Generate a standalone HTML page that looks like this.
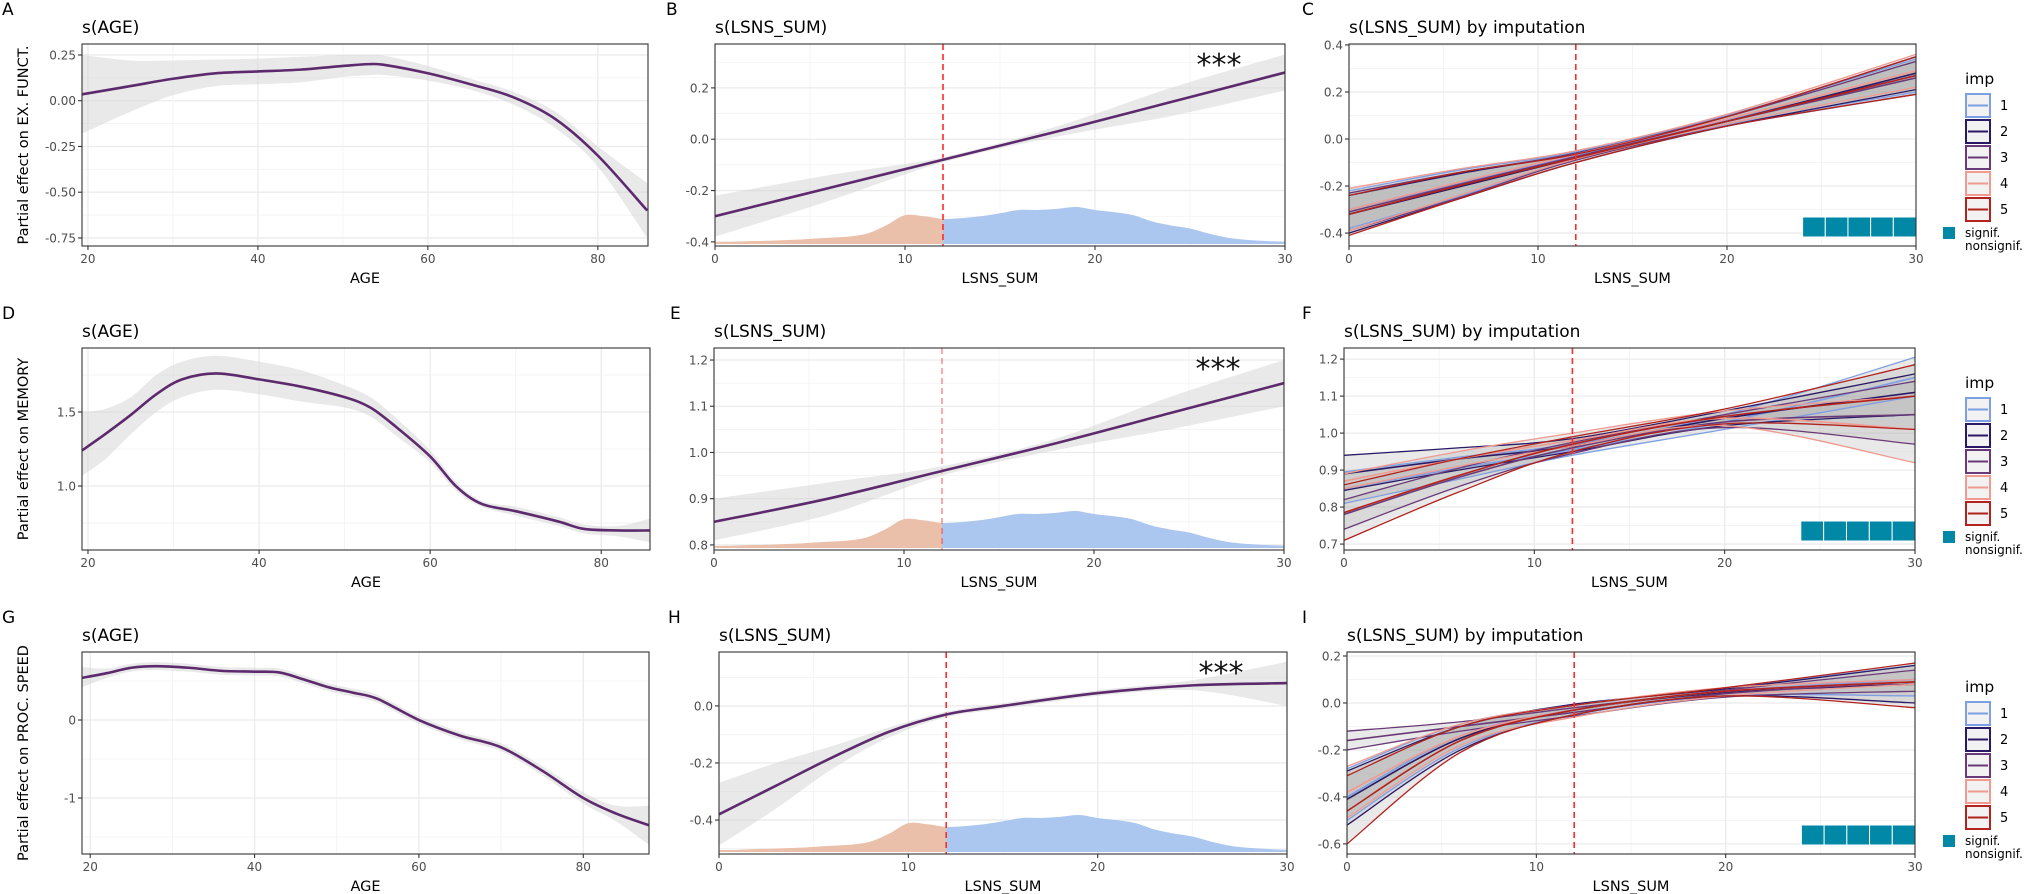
<!DOCTYPE html>
<html><head><meta charset="utf-8"><style>
html,body{margin:0;padding:0;background:#fff}
svg{display:block;font-family:"DejaVu Sans","Liberation Sans",sans-serif}
</style></head><body>
<svg id="fig" width="2031" height="894" viewBox="0 0 2031 894" xmlns="http://www.w3.org/2000/svg"></svg>
<script>
// ---------- DATA ----------
const ageTicks=[20,40,60,80];
const lsnsTicks=[0,10,20,30];
const cutoff=12;
const lsnsGrid=[0,1,2,3,4,5,6,7,8,9,10,11,12,13,14,15,16,17,18,19,20,21,22,23,24,25,26,27,28,29,30];
const lsnsDensity=[0.05,0.06,0.08,0.09,0.11,0.14,0.17,0.2,0.28,0.5,0.78,0.75,0.67,0.7,0.75,0.83,0.92,0.92,0.95,1.0,0.92,0.86,0.78,0.61,0.5,0.42,0.28,0.17,0.11,0.08,0.06];

const ageA=[19.3,25,30,35,40,45,50,53,55,60,65,70,75,80,85.8];
const fitA=[0.035,0.08,0.12,0.15,0.16,0.17,0.19,0.2,0.195,0.15,0.09,0.02,-0.1,-0.3,-0.6];
const upA=[0.25,0.22,0.22,0.225,0.23,0.24,0.25,0.25,0.245,0.19,0.12,0.05,-0.06,-0.25,-0.45];
const loA=[-0.18,-0.06,0.03,0.08,0.09,0.1,0.13,0.14,0.14,0.11,0.06,-0.02,-0.15,-0.36,-0.75];
const yTicksA=[0.25,0,-0.25,-0.5,-0.75];
const yLabelsA=["0.25","0.00","-0.25","-0.50","-0.75"];

const ageD=[19.3,22,25,28,31,35,40,45,50,53,56,60,63,66,70,75,78,82,85.7];
const fitD=[1.24,1.35,1.48,1.62,1.72,1.76,1.72,1.67,1.6,1.53,1.4,1.2,1.0,0.88,0.83,0.76,0.71,0.7,0.7];
const upD=[1.5,1.52,1.6,1.75,1.84,1.88,1.84,1.78,1.68,1.6,1.46,1.24,1.03,0.9,0.86,0.79,0.74,0.73,0.78];
const loD=[1.07,1.18,1.35,1.5,1.6,1.65,1.62,1.57,1.53,1.47,1.34,1.16,0.97,0.86,0.8,0.73,0.68,0.66,0.62];
const yTicksD=[1.0,1.5];
const yLabelsD=["1.0","1.5"];

const ageG=[19,22,25,28,32,36,40,43,46,49,52,55,60,65,70,75,80,84,88];
const fitG=[0.54,0.6,0.67,0.69,0.67,0.63,0.62,0.61,0.52,0.42,0.35,0.27,0.0,-0.2,-0.35,-0.65,-1.0,-1.2,-1.35];
const upG=[0.68,0.66,0.72,0.74,0.72,0.68,0.67,0.66,0.57,0.47,0.4,0.32,0.05,-0.15,-0.3,-0.59,-0.93,-1.1,-1.1];
const loG=[0.42,0.54,0.62,0.64,0.62,0.58,0.57,0.56,0.47,0.37,0.3,0.22,-0.05,-0.25,-0.4,-0.71,-1.07,-1.3,-1.6];
const yTicksG=[0,-1];
const yLabelsG=["0","-1"];

const lsB=[0,6,12,18,24,30];
const fitB=[-0.3,-0.19,-0.08,0.03,0.145,0.26];
const upB=[-0.22,-0.14,-0.07,0.05,0.2,0.33];
const loB=[-0.38,-0.24,-0.09,0.01,0.09,0.19];
const yTicksB=[0.2,0,-0.2,-0.4];
const yLabelsB=["0.2","0.0","-0.2","-0.4"];

const lsE=[0,6,12,18,24,30];
const fitE=[0.85,0.9,0.96,1.02,1.085,1.15];
const upE=[0.9,0.935,0.97,1.03,1.12,1.2];
const loE=[0.81,0.865,0.95,1.005,1.05,1.1];
const yTicksE=[1.2,1.1,1.0,0.9,0.8];
const yLabelsE=["1.2","1.1","1.0","0.9","0.8"];

const lsH=[0,3,6,9,12,15,20,25,30];
const fitH=[-0.38,-0.28,-0.18,-0.09,-0.03,0.0,0.045,0.072,0.08];
const upH=[-0.27,-0.2,-0.14,-0.075,-0.02,0.01,0.055,0.09,0.155];
const loH=[-0.49,-0.36,-0.22,-0.11,-0.04,-0.01,0.035,0.055,0.0];
const yTicksH=[0,-0.2,-0.4];
const yLabelsH=["0.0","-0.2","-0.4"];

const impKnots=[0,6,12,20,30];
const impNames=["1","2","3","4","5"];
const impColors=["#7f9fe3","#2a1a66","#6a3a78","#f09a90","#b3221c"];
const cMean=[[-0.30,-0.185,-0.07,0.08,0.27],[-0.32,-0.20,-0.08,0.075,0.28],[-0.31,-0.19,-0.075,0.075,0.26],[-0.30,-0.18,-0.065,0.085,0.29],[-0.32,-0.195,-0.08,0.075,0.27]];
const cUp=[[-0.22,-0.13,-0.055,0.10,0.34],[-0.24,-0.145,-0.06,0.095,0.35],[-0.23,-0.14,-0.06,0.095,0.33],[-0.21,-0.125,-0.05,0.105,0.36],[-0.24,-0.14,-0.065,0.095,0.35]];
const cLo=[[-0.38,-0.24,-0.09,0.06,0.20],[-0.40,-0.25,-0.10,0.055,0.21],[-0.39,-0.245,-0.09,0.055,0.19],[-0.39,-0.235,-0.085,0.065,0.22],[-0.41,-0.25,-0.10,0.055,0.19]];
const yTicksC=[0.4,0.2,0,-0.2,-0.4];
const yLabelsC=["0.4","0.2","0.0","-0.2","-0.4"];

const fMean=[[0.85,0.905,0.955,1.03,1.15],[0.89,0.93,0.965,1.04,1.11],[0.78,0.88,0.96,1.03,1.05],[0.87,0.93,0.98,1.04,1.01],[0.785,0.885,0.97,1.045,1.10]];
const fUp=[[0.895,0.935,0.97,1.05,1.205],[0.94,0.96,0.985,1.06,1.16],[0.82,0.905,0.975,1.05,1.14],[0.89,0.95,1.0,1.06,1.10],[0.86,0.93,0.99,1.065,1.185]];
const fLo=[[0.81,0.875,0.94,1.01,1.10],[0.845,0.9,0.95,1.02,1.05],[0.74,0.855,0.945,1.015,0.97],[0.85,0.91,0.965,1.02,0.92],[0.71,0.84,0.95,1.025,1.01]];
const yTicksF=[1.2,1.1,1.0,0.9,0.8,0.7];
const yLabelsF=["1.2","1.1","1.0","0.9","0.8","0.7"];

const iMean=[[-0.40,-0.14,-0.03,0.05,0.10],[-0.41,-0.15,-0.03,0.045,0.08],[-0.16,-0.10,-0.04,0.04,0.09],[-0.38,-0.14,-0.03,0.05,0.09],[-0.46,-0.16,-0.03,0.05,0.09]];
const iUp=[[-0.28,-0.09,-0.01,0.065,0.16],[-0.29,-0.10,-0.005,0.06,0.16],[-0.12,-0.08,-0.02,0.055,0.14],[-0.27,-0.09,-0.01,0.065,0.10],[-0.31,-0.10,-0.01,0.065,0.17]];
const iLo=[[-0.50,-0.19,-0.05,0.03,0.03],[-0.52,-0.20,-0.05,0.03,0.0],[-0.20,-0.12,-0.055,0.025,0.05],[-0.49,-0.18,-0.06,0.03,0.08],[-0.60,-0.21,-0.05,0.03,-0.02]];
const yTicksI=[0.2,0,-0.2,-0.4,-0.6];
const yLabelsI=["0.2","0.0","-0.2","-0.4","-0.6"];

const signifStart=24, signifEnd=30, signifBoxes=5;

// ---------- DRAW ----------
const NS="http://www.w3.org/2000/svg";
const svg=document.getElementById('fig');
function el(tag,attrs,parent,text){const e=document.createElementNS(NS,tag);for(const k in attrs)e.setAttribute(k,attrs[k]);if(text!==undefined)e.textContent=text;(parent||svg).appendChild(e);return e;}
function spline(pts){
  if(pts.length<2)return "";
  let d="M"+pts[0][0].toFixed(2)+","+pts[0][1].toFixed(2);
  for(let i=0;i<pts.length-1;i++){
    const p0=pts[Math.max(0,i-1)],p1=pts[i],p2=pts[i+1],p3=pts[Math.min(pts.length-1,i+2)];
    const c1x=p1[0]+(p2[0]-p0[0])/6,c1y=p1[1]+(p2[1]-p0[1])/6;
    const c2x=p2[0]-(p3[0]-p1[0])/6,c2y=p2[1]-(p3[1]-p1[1])/6;
    d+=" C"+c1x.toFixed(2)+","+c1y.toFixed(2)+" "+c2x.toFixed(2)+","+c2y.toFixed(2)+" "+p2[0].toFixed(2)+","+p2[1].toFixed(2);
  }
  return d;
}
function splineBody(pts){return spline(pts).replace(/^M[^ ]+/,"");}

function panel(c){
  const g=el('g',{});
  
  
  const sx=v=>c.x0+(v-c.xd[0])/(c.xd[1]-c.xd[0])*(c.x1-c.x0);
  const sy=v=>c.y0+(c.yd[1]-v)/(c.yd[1]-c.yd[0])*(c.y1-c.y0);
  c.sx=sx;c.sy=sy;
  const clipId='clip-'+c.name;
  const cp=el('clipPath',{id:clipId},g);
  el('rect',{x:c.x0,y:c.y0,width:c.x1-c.x0,height:c.y1-c.y0},cp);
  el('rect',{x:c.x0,y:c.y0,width:c.x1-c.x0,height:c.y1-c.y0,fill:'#fff'},g);
  const grid=el('g',{'clip-path':'url(#'+clipId+')'},g);
  
  
  const xt=c.xt, yt=c.yt;
  const xs=xt[1]-xt[0], ys=yt[1]-yt[0];
  for(let v=xt[0]-xs/2;v<=c.xd[1];v+=xs){if(v>=c.xd[0])el('line',{x1:sx(v),x2:sx(v),y1:c.y0,y2:c.y1,stroke:'#f2f2f2','stroke-width':0.8},grid);}
  const ymin=Math.min(...yt),ystep=Math.abs(ys);
  for(let v=ymin-ystep/2;v<=c.yd[1];v+=ystep){if(v>=c.yd[0])el('line',{x1:c.x0,x2:c.x1,y1:sy(v),y2:sy(v),stroke:'#f2f2f2','stroke-width':0.8},grid);}
  xt.forEach(v=>el('line',{x1:sx(v),x2:sx(v),y1:c.y0,y2:c.y1,stroke:'#ebebeb','stroke-width':1.3},grid));
  yt.forEach(v=>el('line',{x1:c.x0,x2:c.x1,y1:sy(v),y2:sy(v),stroke:'#ebebeb','stroke-width':1.3},grid));
  const plot=el('g',{'clip-path':'url(#'+clipId+')'},g);
  if(c.draw)c.draw(c,plot);
  const b=el('rect',{x:c.x0,y:c.y0,width:c.x1-c.x0,height:c.y1-c.y0,fill:'none',stroke:'#333','stroke-width':1.1},g);
  
  
  const xa=el('g',{},g);
  
  
  xt.forEach(v=>{el('line',{x1:sx(v),x2:sx(v),y1:c.y1,y2:c.y1+4,stroke:'#333','stroke-width':1.1},xa);
    const t=el('text',{x:sx(v),y:c.y1+17,'text-anchor':'middle','font-size':12,fill:'#4d4d4d'},xa,String(v));
    
    });
  const ya=el('g',{},g);
  
  
  yt.forEach((v,i)=>{el('line',{x1:c.x0-4,x2:c.x0,y1:sy(v),y2:sy(v),stroke:'#333','stroke-width':1.1},ya);
    const t=el('text',{x:c.x0-6,y:sy(v)+4.5,'text-anchor':'end','font-size':12,fill:'#4d4d4d'},ya,c.yl[i]);
    
    });
  const xtl=el('text',{x:(c.x0+c.x1)/2,y:c.y1+37,'text-anchor':'middle','font-size':14.5,fill:'#000'},g,c.xlab);
  
  
  if(c.ylab){const yy=(c.y0+c.y1)/2;
    const t=el('text',{x:28,y:yy,'text-anchor':'middle','font-size':14.5,fill:'#000',transform:'rotate(-90 28 '+yy+')'},g,c.ylab);
    
    }
  const tt=el('text',{x:c.x0,y:c.y0-11,'font-size':17,fill:'#000'},g,c.title);
  
  
  const lt=el('text',{x:c.lx,y:c.y0-29,'font-size':17,fill:'#000'},g,c.letter);
  
  
  return c;
}
function ribbon(c,plot,xs,up,lo,fill,op){
  const U=xs.map((x,i)=>[c.sx(x),c.sy(up[i])]);
  const L=xs.map((x,i)=>[c.sx(x),c.sy(lo[i])]).reverse();
  const d=spline(U)+" L"+L[0][0]+","+L[0][1]+splineBody(L)+" Z";
  return el('path',{d:d,fill:fill,'fill-opacity':op,stroke:'none'},plot);
}
function smoothDraw(xs,fit,up,lo){
  return function(c,plot){
    const r=ribbon(c,plot,xs,up,lo,'#d4d4d4',0.5);
    
    
    const p=el('path',{d:spline(xs.map((x,i)=>[c.sx(x),c.sy(fit[i])])),fill:'none',stroke:'#5c2a6d','stroke-width':2.6},plot);
    
    
  };
}
function densityDraw(c,plot,redOp){
  const base=c.y1-2, H=37;
  function area(filter,color,nm){
    let pts=[];
    lsnsGrid.forEach((x,i)=>{if(filter(x))pts.push([c.sx(x),base-lsnsDensity[i]*H]);});
    const d=spline(pts)+" L"+pts[pts.length-1][0]+","+base+" L"+pts[0][0]+","+base+" Z";
    const p=el('path',{d:d,fill:color,stroke:'none'},plot);
    
    
  }
  area(x=>x<=cutoff,'#ebc0ab','density-below-cutoff');
  area(x=>x>=cutoff,'#abc6ef','density-above-cutoff');
  const l=el('line',{x1:c.sx(cutoff),x2:c.sx(cutoff),y1:c.y0,y2:c.y1,stroke:'#ff2a2a','stroke-width':1.6,'stroke-dasharray':'6,4','stroke-opacity':redOp},plot);
  
  
}
function stars(c){
  const t=el('text',{x:c.x1-66,y:c.y0+31,'text-anchor':'middle','font-size':30,fill:'#111'},svg,'***');
  
  
}
function impDraw(mean,up,lo){
  return function(c,plot){
    for(let k=0;k<5;k++){const r=ribbon(c,plot,impKnots,up[k],lo[k],'#b0b0b0',0.28);
      
      }
    for(let k=0;k<5;k++){
      [up[k],mean[k],lo[k]].forEach((arr,j)=>{
        const p=el('path',{d:spline(impKnots.map((x,i)=>[c.sx(x),c.sy(arr[i])])),fill:'none',stroke:impColors[k],'stroke-width':j===1?1.6:1.3},plot);
        
        
      });
    }
    const l=el('line',{x1:c.sx(cutoff),x2:c.sx(cutoff),y1:c.y0,y2:c.y1,stroke:'#ff2a2a','stroke-width':1.6,'stroke-dasharray':'6,4'},plot);
    
    
    const x0=c.sx(signifStart),x1=c.sx(signifEnd),w=(x1-x0)/signifBoxes;
    for(let i=0;i<signifBoxes;i++){
      const r=el('rect',{x:x0+i*w,y:c.y0+173,width:w,height:20,fill:'#0088a6',stroke:'#fff','stroke-width':1},plot);
      
      
    }
  };
}
function legend(off){
  const g=el('g',{});
  
  
  el('text',{x:1965,y:84+off,'font-size':15.5,fill:'#000'},g,'imp');
  for(let k=0;k<5;k++){
    const y=93+off+k*26;
    const e=el('g',{},g);
    
    
    el('rect',{x:1966,y:y+1,width:24,height:23,fill:'#f2f2f2',stroke:impColors[k],'stroke-width':2},e);
    el('line',{x1:1968,x2:1988,y1:y+12.5,y2:y+12.5,stroke:impColors[k],'stroke-width':2},e);
    el('text',{x:2000,y:y+17,'font-size':13,fill:'#000'},e,impNames[k]);
  }
  const s=el('g',{},g);
  
  
  el('rect',{x:1943,y:227+off,width:12,height:12,fill:'#0088a6'},s);
  el('text',{x:1965,y:237+off,'font-size':12,fill:'#000'},s,'signif.');
  el('text',{x:1965,y:250+off,'font-size':12,fill:'#000'},s,'nonsignif.');
}

const rows=[44,348,652], H=202;
panel({name:'panel-a',letter:'A',lx:2,title:'s(AGE)',x0:82,x1:648,y0:rows[0],y1:rows[0]+H,xd:[19.3,85.9],yd:[-0.794,0.31],xt:ageTicks,yt:yTicksA,yl:yLabelsA,xlab:'AGE',ylab:'Partial effect on EX. FUNCT.',draw:smoothDraw(ageA,fitA,upA,loA)});
panel({name:'panel-d',letter:'D',lx:2,title:'s(AGE)',x0:82,x1:650,y0:rows[1],y1:rows[1]+H,xd:[19.3,85.7],yd:[0.568,1.932],xt:ageTicks,yt:yTicksD,yl:yLabelsD,xlab:'AGE',ylab:'Partial effect on MEMORY',draw:smoothDraw(ageD,fitD,upD,loD)});
panel({name:'panel-g',letter:'G',lx:2,title:'s(AGE)',x0:82,x1:649,y0:rows[2],y1:rows[2]+H,xd:[19,88],yd:[-1.718,0.872],xt:ageTicks,yt:yTicksG,yl:yLabelsG,xlab:'AGE',ylab:'Partial effect on PROC. SPEED',draw:smoothDraw(ageG,fitG,upG,loG)});

const pB=panel({name:'panel-b',letter:'B',lx:666,title:'s(LSNS_SUM)',x0:715,x1:1285,y0:rows[0],y1:rows[0]+H,xd:[0,30],yd:[-0.416,0.371],xt:lsnsTicks,yt:yTicksB,yl:yLabelsB,xlab:'LSNS_SUM',draw:(c,p)=>{densityDraw(c,p,1);smoothDraw(lsB,fitB,upB,loB)(c,p);}});
const pE=panel({name:'panel-e',letter:'E',lx:670,title:'s(LSNS_SUM)',x0:714,x1:1284,y0:rows[1],y1:rows[1]+H,xd:[0,30],yd:[0.789,1.226],xt:lsnsTicks,yt:yTicksE,yl:yLabelsE,xlab:'LSNS_SUM',draw:(c,p)=>{densityDraw(c,p,0.5);smoothDraw(lsE,fitE,upE,loE)(c,p);}});
const pH=panel({name:'panel-h',letter:'H',lx:668,title:'s(LSNS_SUM)',x0:719,x1:1287,y0:rows[2],y1:rows[2]+H,xd:[0,30],yd:[-0.519,0.189],xt:lsnsTicks,yt:yTicksH,yl:yLabelsH,xlab:'LSNS_SUM',draw:(c,p)=>{densityDraw(c,p,1);smoothDraw(lsH,fitH,upH,loH)(c,p);}});
stars(pB);stars(pE);stars(pH);

panel({name:'panel-c',letter:'C',lx:1302,title:'s(LSNS_SUM) by imputation',x0:1349,x1:1916,y0:rows[0],y1:rows[0]+H,xd:[0,30],yd:[-0.455,0.404],xt:lsnsTicks,yt:yTicksC,yl:yLabelsC,xlab:'LSNS_SUM',draw:impDraw(cMean,cUp,cLo)});
panel({name:'panel-f',letter:'F',lx:1302,title:'s(LSNS_SUM) by imputation',x0:1344,x1:1915,y0:rows[1],y1:rows[1]+H,xd:[0,30],yd:[0.684,1.23],xt:lsnsTicks,yt:yTicksF,yl:yLabelsF,xlab:'LSNS_SUM',draw:impDraw(fMean,fUp,fLo)});
panel({name:'panel-i',letter:'I',lx:1302,title:'s(LSNS_SUM) by imputation',x0:1347,x1:1915,y0:rows[2],y1:rows[2]+H,xd:[0,30],yd:[-0.643,0.217],xt:lsnsTicks,yt:yTicksI,yl:yLabelsI,xlab:'LSNS_SUM',draw:impDraw(iMean,iUp,iLo)});
legend(0);legend(304);legend(608);
</script>
</body></html>
